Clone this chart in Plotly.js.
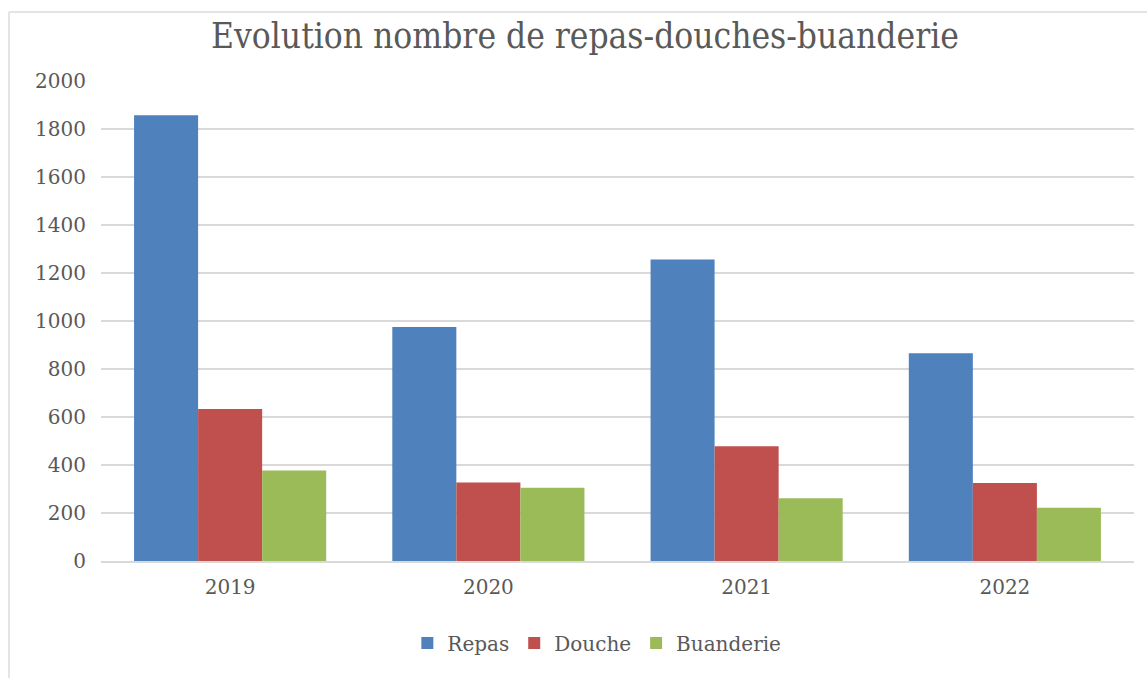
<!DOCTYPE html>
<html>
<head>
<meta charset="utf-8">
<script src="https://cdn.plot.ly/plotly-3.0.1.min.js"></script>
<style>
  html, body { margin: 0; padding: 0; background: #ffffff; }
  #chart { width: 1147px; height: 678px; }
</style>
</head>
<body>
<div id="chart"></div>
<script>
const years = ["2019", "2020", "2021", "2022"];
const repas = [1857, 975, 1256, 866];
const douche = [633, 327, 478, 325];
const buanderie = [377, 305, 261, 222];
const yTicks = [0, 200, 400, 600, 800, 1000, 1200, 1400, 1600, 1800, 2000];

const textColor = "#595959";
const gridColor = "#d9d9d9";
const serif = "DejaVu Serif, Liberation Serif, serif";

// plot area geometry (pixels) used to convert the outer frame to paper coords
const W = 1147, H = 678;
const mL = 101, mR = 13, mT = 81, mB = 117;
const pw = W - mL - mR, ph = H - mT - mB;
const px = v => (v - mL) / pw;
const py = v => (H - mB - v) / ph;

const mk = (name, vals, color) => ({
  type: "bar", name: name, x: years, y: vals,
  marker: { color: color, line: { width: 0 } },
  hoverinfo: "x+y+name"
});

const data = [
  mk("Repas", repas, "#4F81BD"),
  mk("Douche", douche, "#C0504D"),
  mk("Buanderie", buanderie, "#9BBB59")
];

const layout = {
  width: W, height: H,
  margin: { l: mL, r: mR, t: mT, b: mB },
  paper_bgcolor: "#ffffff",
  plot_bgcolor: "#ffffff",
  barmode: "group",
  bargap: 0.256,
  bargroupgap: 0,
  title: {
    text: "Evolution nombre de repas-douches-buanderie",
    font: { family: "DejaVu Serif Condensed, Liberation Serif, serif", size: 35, color: textColor },
    x: 0.51, xanchor: "center", y: 0.948, yanchor: "middle"
  },
  xaxis: {
    type: "category",
    showgrid: false,
    showline: true, linecolor: gridColor, linewidth: 2,
    ticks: "",
    tickfont: { family: serif, size: 20, color: textColor },
    ticklabelstandoff: 7
  },
  yaxis: {
    range: [0, 2000],
    tickvals: yTicks,
    ticktext: yTicks.map(String),
    showgrid: true, gridcolor: gridColor, gridwidth: 2,
    zeroline: false, showline: false,
    ticks: "",
    tickfont: { family: serif, size: 20, color: textColor },
    ticklabelstandoff: 14
  },
  legend: {
    orientation: "h",
    x: 0.48, xanchor: "center",
    y: py(643), yanchor: "middle",
    font: { family: serif, size: 20, color: textColor },
    itemwidth: 30
  },
  shapes: [
    { type: "line", xref: "paper", yref: "paper", x0: px(9), x1: px(W + 5), y0: py(12), y1: py(12),
      line: { color: "#e4e4e4", width: 2 } },
    { type: "line", xref: "paper", yref: "paper", x0: px(9), x1: px(9), y0: py(12), y1: py(H + 5),
      line: { color: "#e4e4e4", width: 2 } }
  ]
};

Plotly.newPlot("chart", data, layout, { displayModeBar: false, staticPlot: true });
</script>
</body>
</html>
